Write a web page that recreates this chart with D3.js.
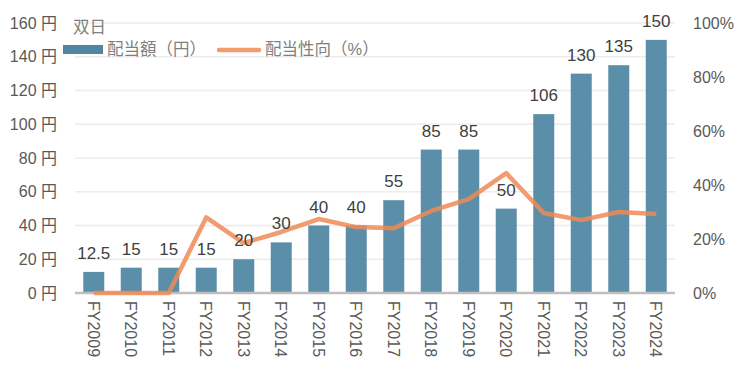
<!DOCTYPE html>
<html>
<meta charset="utf-8">
<style>
  body { margin: 0; background: #fff; }
  text { font-family: "Liberation Sans", Arial, "Noto Sans CJK JP", sans-serif; }
</style>
<body>
  <svg></svg>
</body>
<script src="https://d3js.org/d3.v7.min.js"></script>
<script>
  var years = ["FY2009", "FY2010", "FY2011", "FY2012", "FY2013", "FY2014", "FY2015", "FY2016",
    "FY2017", "FY2018", "FY2019", "FY2020", "FY2021", "FY2022", "FY2023", "FY2024"];
  var dividend = [12.5, 15, 15, 15, 20, 30, 40, 40, 55, 85, 85, 50, 106, 130, 135, 150];
  var payout = [0, 0, 0, 28, 18.5, 22.6, 27.4, 24.4, 24, 30.4, 34.8, 44.4, 29.6, 27, 30, 29.3];
  var leftTicks = [0, 20, 40, 60, 80, 100, 120, 140, 160];
  var rightTicks = [0, 20, 40, 60, 80, 100];

  var W = 748, H = 377;
  var margin = { top: 23, right: 73, bottom: 84, left: 75 };
  var width = W - margin.left - margin.right;
  var height = H - margin.top - margin.bottom;

  var svg = d3.select("svg")
    .attr("width", W)
    .attr("height", H)
    .append("g")
    .attr("transform", "translate(" + margin.left + "," + margin.top + ")");

  var x = d3.scaleBand().domain(years).range([0, width]).paddingInner(0.44).paddingOuter(0.22);
  var y = d3.scaleLinear().domain([0, 160]).range([height, 0]);
  var y2 = d3.scaleLinear().domain([0, 100]).range([height, 0]);

  // gridlines
  svg.append("g").selectAll("line")
    .data(leftTicks.filter(d => d > 0))
    .enter().append("line")
    .attr("x1", 0).attr("x2", width)
    .attr("y1", d => y(d)).attr("y2", d => y(d))
    .attr("stroke", "#ececec").attr("stroke-width", 1.5);

  // left axis
  var yAxis = d3.axisLeft(y).tickValues(leftTicks).tickSize(0).tickPadding(18)
    .tickFormat(d => d + " 円");
  var gy = svg.append("g").call(yAxis);
  gy.select(".domain").remove();
  gy.selectAll("text").attr("fill", "#595959").style("font-size", "16px");

  // right axis
  var y2Axis = d3.axisRight(y2).tickValues(rightTicks).tickSize(0).tickPadding(18)
    .tickFormat(d => d + "%");
  var gy2 = svg.append("g").attr("transform", "translate(" + width + ",0)").call(y2Axis);
  gy2.select(".domain").remove();
  gy2.selectAll("text").attr("fill", "#595959").style("font-size", "16px");

  // bars
  svg.selectAll(".bar")
    .data(dividend)
    .enter().append("rect")
    .attr("class", "bar")
    .attr("x", (d, i) => x(years[i]))
    .attr("width", x.bandwidth())
    .attr("y", d => y(d))
    .attr("height", d => height - y(d))
    .attr("fill", "#4f87a2")
    .attr("fill-opacity", 0.93);

  // baseline
  svg.append("line")
    .attr("x1", 0).attr("x2", width)
    .attr("y1", height).attr("y2", height)
    .attr("stroke", "#bfbfbf").attr("stroke-width", 2.5);

  // payout line
  var line = d3.line()
    .x((d, i) => x(years[i]) + x.bandwidth() / 2)
    .y(d => y2(d));
  svg.append("path")
    .datum(payout)
    .attr("d", line)
    .attr("fill", "none")
    .attr("stroke", "#ef8a55")
    .attr("stroke-opacity", 0.85)
    .attr("stroke-width", 4.5)
    .attr("stroke-linejoin", "round");

  // value labels
  svg.selectAll(".val")
    .data(dividend)
    .enter().append("text")
    .attr("class", "val")
    .attr("x", (d, i) => x(years[i]) + x.bandwidth() / 2)
    .attr("y", d => y(d) - 13)
    .attr("text-anchor", "middle")
    .attr("fill", "#404040")
    .style("font-size", "17px")
    .text(d => d);

  // category labels (rotated)
  svg.selectAll(".cat")
    .data(years)
    .enter().append("text")
    .attr("class", "cat")
    .attr("transform", d => "translate(" + (x(d) + x.bandwidth() / 2 - 6) + "," + (height + 8) + ") rotate(90)")
    .attr("fill", "#595959")
    .style("font-size", "16px")
    .text(d => d);

  // title + legend
  var legend = d3.select("svg").append("g");
  legend.append("text").attr("x", 73).attr("y", 33)
    .attr("fill", "#808080").style("font-size", "16.5px").text("双日");
  legend.append("rect").attr("x", 63).attr("y", 45).attr("width", 40).attr("height", 9).attr("fill", "#4f87a2");
  legend.append("text").attr("x", 107).attr("y", 55)
    .attr("fill", "#808080").style("font-size", "16.5px").text("配当額（円）");
  legend.append("line").attr("x1", 219).attr("x2", 259).attr("y1", 50).attr("y2", 50)
    .attr("stroke", "#ef8a55").attr("stroke-opacity", 0.85).attr("stroke-width", 4.5).attr("stroke-linecap", "round");
  legend.append("text").attr("x", 265).attr("y", 55)
    .attr("fill", "#808080").style("font-size", "16.5px").text("配当性向（%）");
</script>
</html>
